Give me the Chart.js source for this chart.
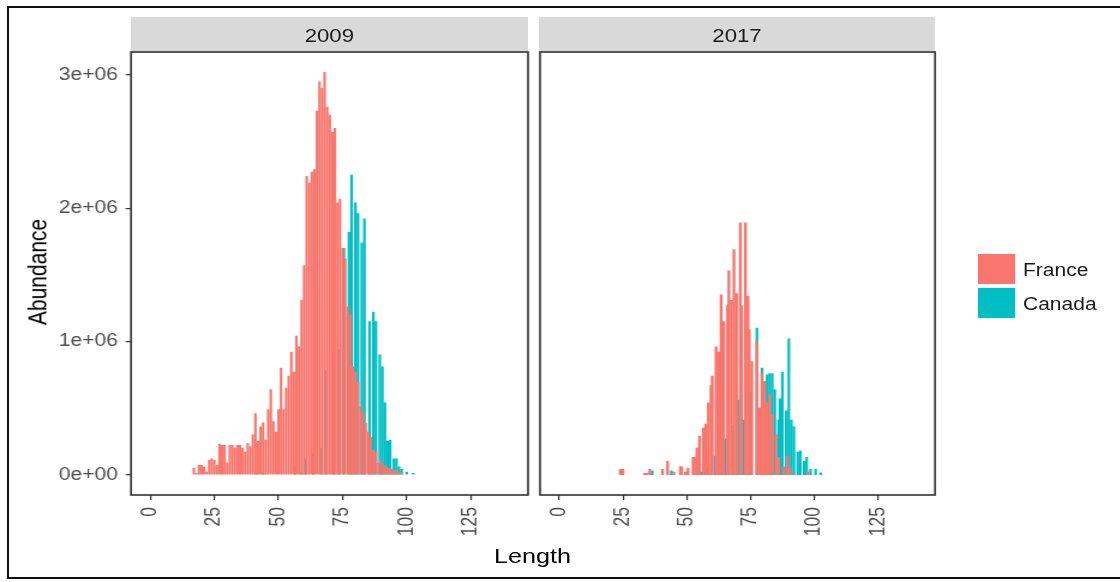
<!DOCTYPE html>
<html>
<head>
<meta charset="utf-8">
<script src="https://cdn.jsdelivr.net/npm/chart.js@4.4.1/dist/chart.umd.min.js"></script>
<style>
html, body { margin: 0; padding: 0; background: #ffffff; width: 1120px; height: 582px; overflow: hidden; }
#frame { position: absolute; left: 7px; top: 6px; width: 1130px; height: 573px; border: 2px solid #111; box-sizing: border-box; }
#wrap { position: absolute; left: 0; top: 0; width: 933.33px; height: 582px; transform: scaleX(1.2); transform-origin: 0 0;
        font-family: 'Liberation Sans', Arial, sans-serif; }
.strip { position: absolute; top: 17px; height: 35px; background: #D9D9D9; color: #1A1A1A; font-size: 18.5px;
         display: flex; align-items: center; justify-content: center; padding-top: 2px; box-sizing: border-box; }
canvas { position: absolute; top: 0; }
.title { position: absolute; white-space: nowrap; color: #000; font-size: 21px; line-height: 1; }
.key { position: absolute; width: 31px; height: 30px; }
.ltext { position: absolute; font-size: 17.5px; color: #1A1A1A; line-height: 1; transform: translateY(-50%); white-space: nowrap; }
</style>
</head>
<body>
<div id="frame"></div>
<div id="wrap">
  <div class="strip" id="strip0" style="left:108.9px;width:331.1px;"></div>
  <div class="strip" id="strip1" style="left:449.2px;width:330px;"></div>
  <canvas id="c0" width="450" height="582" style="left:0px;width:450px;height:582px;"></canvas>
  <canvas id="c1" width="340" height="582" style="left:445px;width:340px;height:582px;"></canvas>
  <div class="title" id="ytitle" style="left:30.8px;top:272px;transform:translate(-50%,-50%) rotate(-90deg);"></div>
  <div class="title" id="xtitle" style="left:443.75px;top:555px;transform:translate(-50%,-50%);"></div>
  <div id="legend"></div>
</div>
<script>
// ---------- data ----------
const facetYears = ['2009', '2017'];
const seriesNames = ['France', 'Canada'];
const seriesColors = ['#F8766D', '#00BFC4'];
const xAxisTitle = 'Length';
const yAxisTitle = 'Abundance';
const xTickValues = [0, 25, 50, 75, 100, 125];
const yTickValues = [0, 1000000, 2000000, 3000000];
const yTickLabels = ['0e+00', '1e+06', '2e+06', '3e+06'];

const franceLen2009 = [17, 18, 19, 20, 21, 22, 23, 24, 25, 26, 27, 28, 29, 30, 31, 32, 33, 34, 35, 36, 37, 38, 39, 40,
  41, 42, 43, 44, 45, 46, 47, 48, 49, 50, 51, 52, 53, 54, 55, 56, 57, 58, 59, 60, 61, 62, 63, 64, 65, 66, 67, 68, 69, 70,
  71, 72, 73, 74, 75, 76, 77, 78, 79, 80, 81, 82, 83, 84, 85, 86, 87, 88, 89, 90, 91, 92, 93, 94, 95, 96, 97, 98];
const franceAbund2009 = [50000, 10000, 70000, 70000, 60000, 20000, 110000, 120000, 110000, 70000, 230000, 220000,
  220000, 90000, 220000, 220000, 200000, 220000, 220000, 200000, 170000, 235000, 210000, 300000,
  460000, 250000, 360000, 390000, 260000, 490000, 640000, 400000, 320000, 490000, 800000, 490000,
  650000, 740000, 920000, 770000, 1040000, 960000, 1310000, 1570000, 2240000, 2190000, 2270000, 2290000,
  2730000, 2950000, 2900000, 3020000, 2760000, 2700000, 2570000, 2600000, 2040000, 2070000, 1700000, 1620000,
  1260000, 1200000, 810000, 770000, 690000, 510000, 460000, 385000, 320000, 280000, 185000, 170000,
  85000, 110000, 70000, 60000, 50000, 40000, 30000, 30000, 20000, 15000];

const canadaLen2009 = [41.5, 44, 56.5, 59, 60.5, 63.5, 66.5, 68.5, 71.5, 73.5, 75.5, 77.5, 78.5, 80, 81, 82.5, 83.5,
  85.5, 87, 88, 89.5, 90.5, 91.5, 92.5, 93.5, 95, 96, 97, 98, 100, 102.5];
const canadaAbund2009 = [10000, 10000, 60000, 20000, 120000, 160000, 200000, 780000, 900000, 940000, 1700000, 1820000,
  2250000, 2040000, 1960000, 1740000, 1920000, 1150000, 1220000, 1150000, 900000, 810000, 540000, 250000, 260000,
  120000, 120000, 60000, 40000, 20000, 10000];

const franceLen2017 = [24, 25, 33.5, 34.5, 35.5, 40.5, 42.5, 45, 47.5, 48, 49.5, 50.5, 52.5, 53, 54, 55, 56.5, 57.5,
  58.5, 59.5, 60, 61.5, 62.5, 63.5, 64.5, 66, 66.5, 67.5, 68.5, 69.5, 71, 71.5, 73, 74, 74.5, 75.5, 77.5, 78.5, 79.5,
  80.5, 81.5, 82.5, 83.5, 85, 86, 88, 89.5, 90.5, 97.5];
const franceAbund2017 = [40000, 40000, 10000, 10000, 40000, 40000, 100000, 20000, 60000, 60000, 20000, 50000, 130000,
  130000, 200000, 290000, 350000, 380000, 540000, 670000, 740000, 960000, 920000, 1350000, 1150000, 1270000, 1530000,
  1310000, 1690000, 1360000, 1890000, 1270000, 1890000, 1340000, 1090000, 850000, 1000000, 500000, 760000, 690000,
  540000, 600000, 450000, 300000, 130000, 60000, 140000, 50000, 20000];

const canadaLen2017 = [36.5, 44, 50, 56, 58, 61, 63, 65, 68, 70, 72, 75, 77.5, 79.5, 80.5, 81.5, 82.5, 83.5, 84.5, 86,
  86.5, 87.5, 89, 90, 91, 92, 93.5, 94.5, 96, 97, 98.5, 100.5, 102.5];
const canadaAbund2017 = [30000, 30000, 20000, 20000, 60000, 140000, 180000, 270000, 370000, 560000, 410000, 620000,
  1100000, 800000, 700000, 750000, 760000, 760000, 640000, 410000, 570000, 770000, 480000, 1020000, 410000, 360000,
  170000, 180000, 100000, 130000, 40000, 40000, 15000];

// ---------- static text ----------
document.getElementById('strip0').textContent = facetYears[0];
document.getElementById('strip1').textContent = facetYears[1];
document.getElementById('xtitle').textContent = xAxisTitle;
document.getElementById('ytitle').textContent = yAxisTitle;
const legend = document.getElementById('legend');
seriesNames.forEach((name, i) => {
  const key = document.createElement('div');
  key.className = 'key';
  key.style.left = '814.75px';
  key.style.top = (254 + i * 34) + 'px';
  key.style.background = seriesColors[i];
  legend.appendChild(key);
  const t = document.createElement('div');
  t.className = 'ltext';
  t.style.left = '852.5px';
  t.style.top = (271 + i * 34) + 'px';
  t.textContent = name;
  legend.appendChild(t);
});

// ---------- charts ----------
Chart.defaults.font.family = "'Liberation Sans', Arial, sans-serif";
Chart.defaults.animation = false;

const panelBorder = {
  id: 'panelBorder',
  afterDraw(chart) {
    const { ctx, chartArea: a } = chart;
    ctx.save();
    ctx.strokeStyle = '#333333';
    ctx.lineWidth = 1.6;
    ctx.strokeRect(a.left, a.top, a.right - a.left, a.bottom - a.top);
    ctx.restore();
  }
};

function points(xs, ys) { return xs.map((x, i) => ({ x: x, y: ys[i] })); }

function makePanel(id, frLen, frVal, caLen, caVal, showY, padding, frThick, caThick) {
  return new Chart(document.getElementById(id), {
    type: 'bar',
    data: {
      datasets: [
        { label: seriesNames[0], data: points(frLen, frVal), backgroundColor: seriesColors[0],
          borderWidth: 0, barThickness: frThick, grouped: false },
        { label: seriesNames[1], data: points(caLen, caVal), backgroundColor: seriesColors[1],
          borderWidth: 0, barThickness: caThick, grouped: false }
      ]
    },
    options: {
      responsive: false,
      animation: false,
      layout: { padding: padding },
      plugins: { legend: { display: false }, tooltip: { enabled: false } },
      scales: {
        x: {
          type: 'linear', min: -7.5, max: 147.3, offset: false,
          afterBuildTicks: s => { s.ticks = xTickValues.map(v => ({ value: v })); },
          afterFit: s => { s.height = 60; },
          ticks: { minRotation: 90, maxRotation: 90, autoSkip: false, color: '#4D4D4D',
                   font: { size: 17.5 }, padding: 7, callback: v => String(v) },
          grid: { offset: false, drawOnChartArea: false, drawTicks: true, tickLength: 5, color: '#333333', lineWidth: 1.2 },
          border: { display: false }
        },
        y: {
          type: 'linear', min: -152000, max: 3173000, display: showY,
          afterBuildTicks: s => { s.ticks = yTickValues.map(v => ({ value: v })); },
          afterFit: s => { if (showY) s.width = 109.17; },
          ticks: { color: '#4D4D4D', font: { size: 17.5 }, padding: 6.4,
                   callback: v => yTickLabels[yTickValues.indexOf(v)] },
          grid: { drawOnChartArea: false, drawTicks: true, tickLength: 4.5, color: '#333333', lineWidth: 1.2 },
          border: { display: false }
        }
      }
    },
    plugins: [panelBorder]
  });
}

makePanel('c0', franceLen2009, franceAbund2009, canadaLen2009, canadaAbund2009, true,
  { left: 0, right: 10, top: 52, bottom: 27 }, 1.45, 1.6);
makePanel('c1', franceLen2017, franceAbund2017, canadaLen2017, canadaAbund2017, false,
  { left: 5, right: 5.83, top: 52, bottom: 27 }, 1.75, 1.6);
</script>
</body>
</html>
